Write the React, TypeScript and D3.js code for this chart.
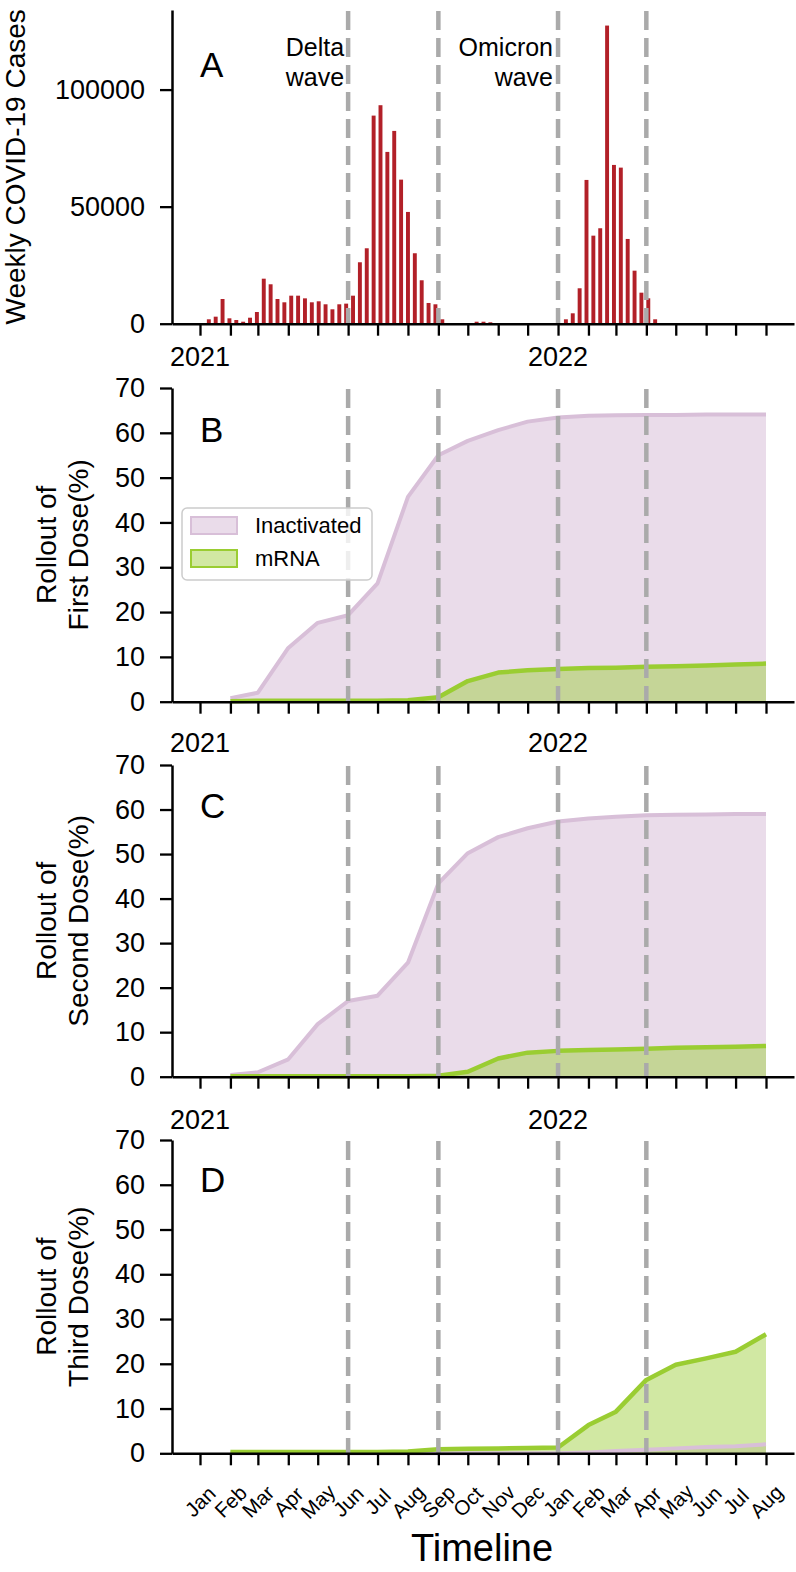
import React, { useEffect, useRef } from "react";
import * as d3 from "d3";

// weekly cases (panel A), one bar per week starting here
const weekStart = "2021-01-10";
const weeklyCases = [
  1880, 3000, 10550, 2300, 1580, 850, 2560, 5000, 19230, 16840,
  10550, 9140, 11970, 11970, 10830, 9140, 9570, 8290, 6150, 8290,
  8570, 11970, 26240, 32220, 88890, 93330, 73380, 82350, 61540, 47740,
  30090, 18550, 8850, 8290, 1880, 0, 0, 0, 0, 850,
  850, 600, 0, 0, 0, 0, 0, 0, 0, 0,
  0, 0, 1880, 4440, 15130, 61410, 37610, 40770, 127350, 67820,
  66670, 36200, 22650, 13250, 10850, 1880,
];

// monthly rollout points (panels B-D)
const rolloutMonths = [
  "2021-02-01", "2021-03-01", "2021-04-01", "2021-05-01", "2021-06-01", "2021-07-01",
  "2021-08-01", "2021-09-01", "2021-10-01", "2021-11-01", "2021-12-01", "2022-01-01",
  "2022-02-01", "2022-03-01", "2022-04-01", "2022-05-01", "2022-06-01", "2022-07-01",
  "2022-08-01",
];
const firstInact = [0.8, 2.0, 12.0, 17.6, 19.3, 26.4, 45.7, 55.0, 58.2, 60.6, 62.5, 63.4, 63.8, 63.9, 64.0, 64.0, 64.1, 64.1, 64.1];
const firstMrna = [0.1, 0.2, 0.2, 0.2, 0.2, 0.2, 0.3, 1.0, 4.6, 6.5, 7.0, 7.3, 7.5, 7.6, 7.8, 7.9, 8.1, 8.3, 8.5];
const secondInact = [0.4, 1.0, 3.9, 11.8, 17.0, 18.2, 25.6, 43.4, 50.2, 53.8, 55.8, 57.3, 58.0, 58.4, 58.7, 58.8, 58.9, 59.0, 59.0];
const secondMrna = [0.1, 0.1, 0.1, 0.1, 0.1, 0.1, 0.1, 0.2, 1.1, 4.1, 5.4, 5.8, 6.0, 6.1, 6.3, 6.5, 6.6, 6.7, 6.9];
const thirdInact = [0, 0, 0, 0, 0, 0, 0, 0, 0, 0, 0, 0, 0.2, 0.5, 0.8, 1.1, 1.4, 1.6, 2.0];
const thirdMrna = [0.3, 0.3, 0.3, 0.3, 0.3, 0.3, 0.4, 0.9, 1.0, 1.1, 1.2, 1.3, 6.3, 9.3, 16.4, 19.8, 21.2, 22.7, 26.6];

const waveDates = ["2021-06-01", "2021-09-01", "2022-01-01", "2022-04-01"];
const yearTicks = ["2021-01-01", "2022-01-01"];
const caseTicks = [0, 50000, 100000];
const pctTicks = [0, 10, 20, 30, 40, 50, 60, 70];

const FONT = "'Liberation Sans', Arial, Helvetica, sans-serif";
const PURPLE = "#d8bfd8";
const GREEN = "#9acd32";
const BAR = "#b22028";
const DASH = "#aaaaaa";

const App = () => {
  const svgRef = useRef<SVGSVGElement>(null);

  useEffect(() => {
    const svg = d3.select(svgRef.current);
    svg.selectAll("*").remove();

    const width = 796;
    const height = 1572;
    const parse = d3.utcParse("%Y-%m-%d");
    const axisX = 172;

    const x = d3.scaleUtc()
      .domain([new Date(Date.UTC(2020, 11, 3, 11)), new Date(Date.UTC(2022, 7, 29, 13))])
      .range([axisX, 794]);
    const monthTicks = d3.utcMonth.range(new Date(Date.UTC(2021, 0, 1)), new Date(Date.UTC(2022, 7, 2)));

    svg.attr("width", width).attr("height", height).style("font-family", FONT);

    const panels = [
      { top: 10, bottom: 323.7, letter: "A", letterY: 77, yearY: 366 },
      { top: 388, bottom: 701.7, letter: "B", letterY: 442, yearY: 752, inact: firstInact, mrna: firstMrna, label: "First Dose(%)" },
      { top: 765, bottom: 1076.7, letter: "C", letterY: 818, yearY: 1129, inact: secondInact, mrna: secondMrna, label: "Second Dose(%)" },
      { top: 1140, bottom: 1453.3, letter: "D", letterY: 1192, yearY: null, inact: thirdInact, mrna: thirdMrna, label: "Third Dose(%)" },
    ];

    const styleAxis = (g, fontSize) => {
      g.select(".domain").attr("stroke", "#000").attr("stroke-width", 2.5);
      g.selectAll(".tick line").attr("stroke", "#000").attr("stroke-width", 2.3);
      g.selectAll(".tick text").attr("fill", "#000").style("font-size", fontSize + "px").style("font-family", FONT);
    };

    panels.forEach((p, i) => {
      const g = svg.append("g");
      const y = d3.scaleLinear()
        .domain(i === 0 ? [0, 134000] : [0, 70])
        .range([p.bottom, p.top]);

      if (i === 0) {
        // bars
        const start = parse(weekStart);
        const bars = weeklyCases.map((v, k) => ({ date: d3.utcDay.offset(start, 7 * k), v }));
        const bw = x(d3.utcDay.offset(start, 4)) - x(start);
        g.selectAll("rect.bar")
          .data(bars)
          .enter()
          .append("rect")
          .attr("x", d => x(d.date) - bw / 2)
          .attr("y", d => y(d.v))
          .attr("width", bw)
          .attr("height", d => y(0) - y(d.v))
          .attr("fill", BAR);
      } else {
        const pts = rolloutMonths.map((m, k) => ({ date: parse(m), a: p.inact[k], b: p.mrna[k] }));
        const areaA = d3.area().x(d => x(d.date)).y0(y(0)).y1(d => y(d.a));
        const areaB = d3.area().x(d => x(d.date)).y0(y(0)).y1(d => y(d.b));
        const lineA = d3.line().x(d => x(d.date)).y(d => y(d.a));
        const lineB = d3.line().x(d => x(d.date)).y(d => y(d.b));
        g.append("path").attr("d", areaA(pts)).attr("fill", PURPLE).attr("fill-opacity", 0.55);
        g.append("path").attr("d", areaB(pts)).attr("fill", GREEN).attr("fill-opacity", 0.45);
        g.append("path").attr("d", lineA(pts)).attr("fill", "none").attr("stroke", PURPLE)
          .attr("stroke-width", 4).attr("stroke-linejoin", "round");
        g.append("path").attr("d", lineB(pts)).attr("fill", "none").attr("stroke", GREEN)
          .attr("stroke-width", 4.5).attr("stroke-linejoin", "round");
      }

      // wave boundaries
      g.selectAll("line.wave")
        .data(waveDates.map(parse))
        .enter()
        .append("line")
        .attr("x1", d => x(d)).attr("x2", d => x(d))
        .attr("y1", p.top + 1).attr("y2", p.bottom)
        .attr("stroke", DASH)
        .attr("stroke-width", 4.5)
        .attr("stroke-dasharray", "19,8");

      // axes
      const yAxis = d3.axisLeft(y)
        .tickValues(i === 0 ? caseTicks : pctTicks)
        .tickFormat(d3.format("d"))
        .tickSize(12)
        .tickSizeOuter(0)
        .tickPadding(15);
      g.append("g").attr("transform", `translate(${axisX},0)`).call(yAxis).call(s => styleAxis(s, 27));

      const xAxis = d3.axisBottom(x)
        .tickValues(monthTicks)
        .tickFormat(() => "")
        .tickSize(12)
        .tickSizeOuter(0);
      g.append("g").attr("transform", `translate(0,${p.bottom})`).call(xAxis).call(s => styleAxis(s, 19));

      // year labels
      if (p.yearY) {
        g.selectAll("text.year")
          .data(yearTicks.map(parse))
          .enter()
          .append("text")
          .attr("x", d => x(d))
          .attr("y", p.yearY)
          .attr("text-anchor", "middle")
          .style("font-size", "27px")
          .text(d => d3.utcFormat("%Y")(d));
      }

      // panel letter
      g.append("text")
        .attr("x", 200)
        .attr("y", p.letterY)
        .style("font-size", "35px")
        .text(p.letter);

      // y label
      const cy = (p.top + p.bottom) / 2;
      if (i === 0) {
        g.append("text")
          .attr("transform", `translate(25,${cy}) rotate(-90)`)
          .attr("text-anchor", "middle")
          .style("font-size", "28px")
          .text("Weekly COVID-19 Cases");
      } else {
        g.append("text")
          .attr("transform", `translate(56,${cy}) rotate(-90)`)
          .attr("text-anchor", "middle")
          .style("font-size", "28px")
          .text("Rollout of");
        g.append("text")
          .attr("transform", `translate(88,${cy}) rotate(-90)`)
          .attr("text-anchor", "middle")
          .style("font-size", "28px")
          .text(p.label);
      }
    });

    // wave annotations in A
    const notes = [
      { x: x(parse(waveDates[0])) - 4, lines: ["Delta", "wave"] },
      { x: x(parse(waveDates[2])) - 5, lines: ["Omicron", "wave"] },
    ];
    notes.forEach(n => {
      n.lines.forEach((t, j) => {
        svg.append("text")
          .attr("x", n.x)
          .attr("y", 56 + j * 30)
          .attr("text-anchor", "end")
          .style("font-size", "25px")
          .text(t);
      });
    });

    // month labels under D
    const dBottom = panels[3].bottom;
    svg.selectAll("text.month")
      .data(monthTicks)
      .enter()
      .append("text")
      .attr("transform", d => `translate(${x(d)},${dBottom + 48}) rotate(-45)`)
      .attr("text-anchor", "middle")
      .attr("dominant-baseline", "central")
      .style("font-size", "20.5px")
      .text(d => d3.utcFormat("%b")(d));

    svg.append("text")
      .attr("x", 482)
      .attr("y", 1561)
      .attr("text-anchor", "middle")
      .style("font-size", "38px")
      .text("Timeline");

    // legend in B
    const lg = svg.append("g").attr("transform", "translate(182,508)");
    lg.append("rect")
      .attr("width", 190).attr("height", 72).attr("rx", 5)
      .attr("fill", "#fff").attr("fill-opacity", 0.8)
      .attr("stroke", "#cccccc").attr("stroke-width", 1.5);
    [
      { label: "Inactivated", color: PURPLE, op: 0.55 },
      { label: "mRNA", color: GREEN, op: 0.45 },
    ].forEach((e, j) => {
      lg.append("rect")
        .attr("x", 9).attr("y", 9 + j * 33)
        .attr("width", 46).attr("height", 17)
        .attr("fill", e.color).attr("fill-opacity", e.op)
        .attr("stroke", e.color).attr("stroke-width", 2);
      lg.append("text")
        .attr("x", 73).attr("y", 25 + j * 33)
        .style("font-size", "22px")
        .text(e.label);
    });
  }, []);

  return <svg ref={svgRef} style={{ position: "absolute", left: 0, top: 0 }} />;
};

export default App;
